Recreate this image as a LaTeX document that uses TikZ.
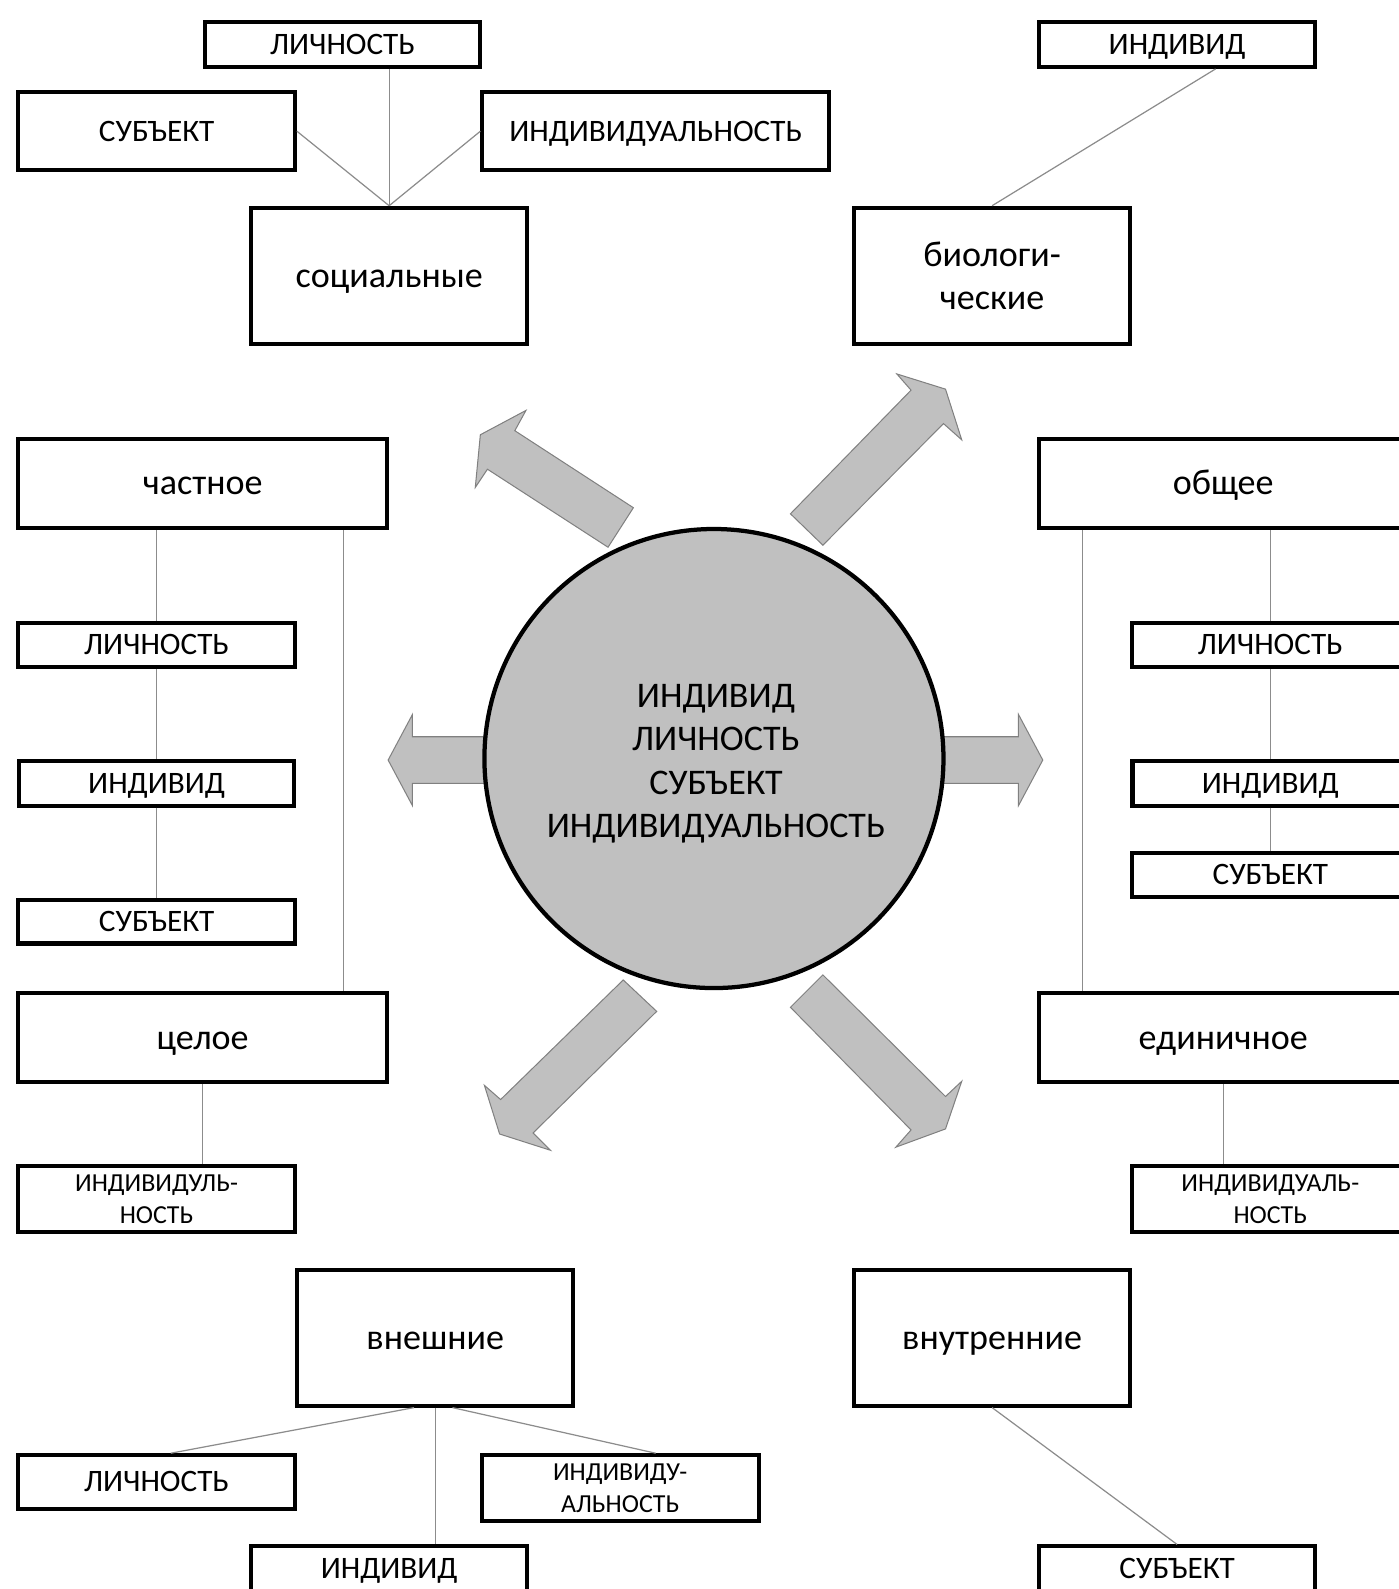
\documentclass[tikz,border=0pt]{standalone}
\usepackage{fontspec}
\setmainfont{Carlito}
\usetikzlibrary{calc}
\definecolor{fillgray}{RGB}{192,192,192}
\definecolor{edgegray}{RGB}{128,128,128}
\definecolor{conngray}{RGB}{140,140,140}
\newcommand\capsfont{\fontsize{15.4}{18.5}\selectfont}
\newcommand\lowfont{\fontsize{17.8}{21}\selectfont}
\newcommand\twofont{\fontsize{12.8}{15.5}\selectfont}
\newcommand\circfont{\fontsize{17.8}{21.4}\selectfont}
\begin{document}
\begin{tikzpicture}[x=0.5pt,y=-0.5pt,
  box/.style={draw, line width=2pt, inner sep=0pt, align=center, font=\capsfont},
  onecaps/.style={text height=12pt, text depth=2.3pt},
  onelow/.style={font=\lowfont, text height=14pt, text depth=2.7pt},
  twolow/.style={font=\lowfont},
  wA/.style={minimum width=136pt, minimum height=22pt},
  wB/.style={minimum width=136.5pt, minimum height=38.5pt},
  wC/.style={minimum width=171pt, minimum height=38.5pt},
  wD/.style={minimum width=136pt, minimum height=67pt},
  wE/.style={minimum width=182pt, minimum height=44pt},
  wF/.style={minimum width=136.5pt, minimum height=21.5pt},
  wG/.style={minimum width=136.5pt, minimum height=32.5pt, font=\twofont},
  wH/.style={minimum width=136.5pt, minimum height=26.5pt},
  conn/.style={draw=conngray, line width=0.6pt},
  blockarrow/.style={fill=fillgray, draw=edgegray, line width=0.5pt, line join=miter},
  core/.style={circle, draw, line width=2.1pt, fill=fillgray, inner sep=0pt,
    minimum size=226.5pt},
  coretextstyle/.style={align=center, font=\circfont, inner sep=0pt}]
\useasboundingbox (0,0) rectangle (1380,1568);
\fill[white] (0,0) rectangle (1380,1568);

% top-left group
\node[box,wA,onecaps] (lichT) at (338,44) {ЛИЧНОСТЬ};
\node[box,wB,onecaps] (subT) at (154.5,129.5) {СУБЪЕКТ};
\node[box,wC,onecaps] (indivT) at (647,129.5) {ИНДИВИДУАЛЬНОСТЬ};
\node[box,wD,onelow] (socT) at (384,272) {социальные};
% top-right group
\node[box,wA,onecaps] (indT) at (1161.5,44) {ИНДИВИД};
\node[box,wD,twolow] (bioT) at (979,272) {биологи-\\ческие};
% left column
\node[box,wE,onelow] (chaL) at (200,477) {частное};
\node[box,wF,onecaps] (lichL) at (154.5,636.5) {ЛИЧНОСТЬ};
\node[box,wA,onecaps] (indL) at (154.5,773) {ИНДИВИД};
\node[box,wF,onecaps] (subL) at (154.5,909.5) {СУБЪЕКТ};
\node[box,wE,onelow] (celL) at (200,1024) {целое};
\node[box,wG] (indivL) at (154.5,1183.5) {ИНДИВИДУЛЬ-\\НОСТЬ};
% right column
\node[box,wE,onelow] (obsR) at (1207,477) {общее};
\node[box,wF,onecaps] (lichR) at (1253.5,636.5) {ЛИЧНОСТЬ};
\node[box,wA,onecaps] (indR) at (1253.5,773) {ИНДИВИД};
\node[box,wF,onecaps] (subR) at (1253.5,863.5) {СУБЪЕКТ};
\node[box,wE,onelow] (ediR) at (1207,1024) {единичное};
\node[box,wG] (indivR) at (1253.5,1183.5) {ИНДИВИДУАЛЬ-\\НОСТЬ};
% bottom groups
\node[box,wD,onelow] (vneB) at (429.5,1320) {внешние};
\node[box,wH,onecaps] (lichB) at (154.5,1462.5) {ЛИЧНОСТЬ};
\node[box,wG] (indivB) at (612,1468.5) {ИНДИВИДУ-\\АЛЬНОСТЬ};
\node[box,wA,onecaps] (indB) at (384,1548) {ИНДИВИД};
\node[box,wD,onelow] (vnuB) at (979,1320) {внутренние};
\node[box,wA,onecaps] (subB) at (1161.5,1548) {СУБЪЕКТ};

% connectors
\draw[conn] (socT.north) -- (socT.north |- lichT.south);
\draw[conn] (socT.north) -- (subT.east);
\draw[conn] (socT.north) -- (indivT.west);
\draw[conn] (bioT.north) -- ($(indT.south)+(38,0)$);
\draw[conn] (lichL.north |- chaL.south) -- (lichL.north);
\draw[conn] (lichL.south) -- (indL.north);
\draw[conn] (indL.south) -- (subL.north);
\draw[conn] ($(chaL.south east)+(-45,0)$) -- ($(celL.north east)+(-45,0)$);
\draw[conn] (celL.south) -- (celL.south |- indivL.north);
\draw[conn] (lichR.north |- obsR.south) -- (lichR.north);
\draw[conn] (lichR.south) -- (indR.north);
\draw[conn] (indR.south) -- (subR.north);
\draw[conn] ($(obsR.south west)+(45,0)$) -- ($(ediR.north west)+(45,0)$);
\draw[conn] (ediR.south) -- (ediR.south |- indivR.north);
\draw[conn] ($(vneB.south)+(-21,0)$) -- ($(lichB.north)+(14,0)$);
\draw[conn] (vneB.south) -- (vneB.south |- indB.north);
\draw[conn] ($(vneB.south)+(17,0)$) -- ($(indivB.north)+(35,0)$);
\draw[conn] (vnuB.south) -- (subB.north);

% block arrows
\draw[blockarrow] (625,501) -- (508,425) -- (519,405) -- (474,429) -- (469,481) -- (481,463) -- (600,540) -- cycle;
\draw[blockarrow] (780,507) -- (899,385) -- (885,369) -- (933,384) -- (949,434) -- (931,418) -- (812,538) -- cycle;
\draw[blockarrow] (615,967) -- (494,1085) -- (478,1071) -- (493,1119) -- (543,1135) -- (526,1118) -- (648,998) -- cycle;
\draw[blockarrow] (812,962) -- (933,1082) -- (949,1067) -- (933,1114) -- (884,1132) -- (899,1115) -- (780,994) -- cycle;
\draw[blockarrow] (500,727) -- (407,727) -- (407,705) -- (383,750) -- (407,795) -- (407,773) -- (500,773) -- cycle;
\draw[blockarrow] (910,727) -- (1005,727) -- (1005,705) -- (1029,750) -- (1005,795) -- (1005,773) -- (910,773) -- cycle;

% central circle
\node[core] (center) at (704.5,748.5) {};
\node[coretextstyle] (coretext) at ($(center)+(2,5)$) {ИНДИВИД\\ЛИЧНОСТЬ\\СУБЪЕКТ\\ИНДИВИДУАЛЬНОСТЬ};
\end{tikzpicture}
\end{document}
